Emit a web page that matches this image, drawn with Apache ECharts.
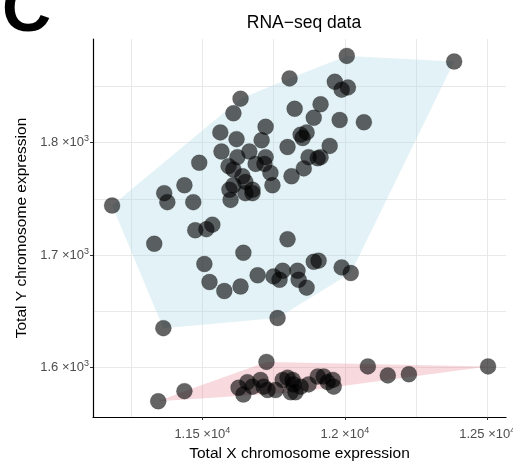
<!DOCTYPE html>
<html><head><meta charset="utf-8">
<script src="https://cdn.jsdelivr.net/npm/echarts@6/dist/echarts.min.js"></script>
<style>html,body{margin:0;padding:0;background:#fff}#c{width:513px;height:461px}</style>
</head><body><div id="c"></div>
<script>
// Group 1 (light blue hull)
const blueX = [11183,11331,11363,11366,11377,11437,11468,11489,11535,11514,11475,11634,11609,11722,11563,11620,11708,11567,11623,11665,11722,11592,11609,11687,11718,11739,11641,11651,11595,11609,11676,11746,11599,11651,11676,11806,12007,12384,11965,11989,12011,11824,11915,11891,11982,12067,11845,11866,11852,11799,11947,11873,11905,11915,11856,11813,11644,11507,11525,11577,11634,11694,11750,11771,11782,11834,11838,11866,11799,11891,11908,11989,12021,11764];
const blueY = [1744,1710,1635,1755,1747,1762,1747,1782,1727,1723,1722,1839,1826,1814,1809,1803,1802,1792,1787,1792,1787,1779,1776,1781,1781,1773,1770,1765,1758,1762,1758,1762,1749,1755,1755,1857,1877,1872,1854,1847,1849,1830,1834,1822,1820,1818,1807,1809,1804,1796,1797,1787,1786,1787,1777,1770,1702,1692,1676,1668,1672,1682,1681,1678,1686,1686,1678,1671,1714,1694,1695,1689,1684,1644];
// Group 2 (pink hull)
const pinkX = [11345,11437,11725,11627,11658,11644,11676,11704,11715,11729,11757,11782,11799,11817,11820,11810,11827,11845,11873,11905,11926,11940,11958,11961,12081,12151,12225,12503];
const pinkY = [1570,1579,1605,1582,1587,1576,1583,1589,1583,1580,1580,1589,1591,1589,1585,1578,1578,1583,1585,1592,1592,1587,1589,1583,1601,1593,1594,1601];

const xMajor = [11500, 12000, 12500];
const xMajorLabels = ['1.15', '1.2', '1.25'];
const xExponent = '4';
const yMajor = [1600, 1700, 1800];
const yMajorLabels = ['1.6', '1.7', '1.8'];
const yExponent = '3';
const xGridValues = [11250, 11500, 11750, 12000, 12250, 12500];
const yGridValues = [1600, 1650, 1700, 1750, 1800, 1850];
const xRange = [11116, 12566];
const yRange = [1556, 1892];

function zip(xs, ys) { return xs.map((x, i) => [x, ys[i]]); }
function hull(pts) {
  const p = pts.slice().sort((a, b) => a[0] - b[0] || a[1] - b[1]);
  const cross = (o, a, b) => (a[0]-o[0])*(b[1]-o[1]) - (a[1]-o[1])*(b[0]-o[0]);
  const lo = [], up = [];
  for (const q of p) { while (lo.length >= 2 && cross(lo[lo.length-2], lo[lo.length-1], q) <= 0) lo.pop(); lo.push(q); }
  for (let i = p.length - 1; i >= 0; i--) { const q = p[i]; while (up.length >= 2 && cross(up[up.length-2], up[up.length-1], q) <= 0) up.pop(); up.push(q); }
  up.pop(); lo.pop();
  return lo.concat(up);
}
const bluePts = zip(blueX, blueY), pinkPts = zip(pinkX, pinkY);
const blueHull = hull(bluePts), pinkHull = hull(pinkPts);

function hullSeries(h, fill) {
  return {
    type: 'custom', xAxisIndex: 0, yAxisIndex: 0, silent: true, z: 1,
    data: [h[0]],
    renderItem: (params, api) => ({
      type: 'polygon',
      shape: { points: h.map(p => api.coord(p)) },
      style: { fill: fill, stroke: null }
    })
  };
}
function labelFmt(values, labels, exp) {
  return v => {
    const i = values.indexOf(v);
    if (i < 0) return '';
    return '{m|' + labels[i] + ' \u00d710}{s|' + exp + '}';
  };
}
const rich = {
  m: { fontSize: 13, color: '#4d4d4d', fontFamily: 'Liberation Sans', lineHeight: 16 },
  s: { fontSize: 9, color: '#4d4d4d', fontFamily: 'Liberation Sans', verticalAlign: 'top', lineHeight: 10 }
};
const pointStyle = { color: 'rgba(0,0,0,0.76)', borderColor: 'rgba(0,0,0,0.35)', borderWidth: 0.6 };

const chart = echarts.init(document.getElementById('c'), null, { renderer: 'canvas' });
chart.setOption({
  animation: false,
  backgroundColor: '#fff',
  grid: { left: 93, right: 7, top: 39, bottom: 44, containLabel: false, outerBoundsMode: 'none' },
  title: {
    text: 'RNA\u2212seq data', left: 299, top: 9, textAlign: 'center',
    textStyle: { fontFamily: 'Liberation Sans', fontSize: 17.5, fontWeight: 'normal', color: '#000' }
  },
  graphic: [{
    type: 'text', left: 2, top: -22,
    style: { text: 'C', font: 'bold 68px "Liberation Sans"', fill: '#000' }
  }],
  xAxis: [{
    type: 'value', min: xRange[0], max: xRange[1], position: 'bottom',
    axisLine: { show: true, onZero: false, lineStyle: { color: '#000', width: 1.2 } },
    axisTick: { show: true, length: 3, customValues: xMajor, lineStyle: { color: '#333' } },
    axisLabel: { show: true, customValues: xMajor, margin: 9, formatter: labelFmt(xMajor, xMajorLabels, xExponent), rich: rich },
    splitLine: { show: false },
    name: 'Total X chromosome expression', nameLocation: 'middle', nameGap: 27,
    nameTextStyle: { fontFamily: 'Liberation Sans', fontSize: 15.5, color: '#000' }
  }, {
    type: 'value', min: xRange[0], max: xRange[1], position: 'bottom',
    axisLine: { show: false }, axisLabel: { show: false },
    axisTick: { show: false, customValues: xGridValues },
    splitLine: { show: true, lineStyle: { color: '#e8e8e8', width: 1 } }
  }],
  yAxis: [{
    type: 'value', min: yRange[0], max: yRange[1], position: 'left',
    axisLine: { show: true, onZero: false, lineStyle: { color: '#000', width: 1.2 } },
    axisTick: { show: true, length: 3, customValues: yMajor, lineStyle: { color: '#333' } },
    axisLabel: { show: true, customValues: yMajor, margin: 4, formatter: labelFmt(yMajor, yMajorLabels, yExponent), rich: rich },
    splitLine: { show: false },
    name: 'Total Y chromosome expression', nameLocation: 'middle', nameGap: 60, nameRotate: 90,
    nameTextStyle: { fontFamily: 'Liberation Sans', fontSize: 15.5, color: '#000' }
  }, {
    type: 'value', min: yRange[0], max: yRange[1], position: 'left',
    axisLine: { show: false }, axisLabel: { show: false },
    axisTick: { show: false, customValues: yGridValues },
    splitLine: { show: true, lineStyle: { color: '#e8e8e8', width: 1 } }
  }],
  series: [
    hullSeries(blueHull, 'rgba(173,216,230,0.34)'),
    hullSeries(pinkHull, 'rgba(230,140,155,0.33)'),
    { type: 'scatter', xAxisIndex: 0, yAxisIndex: 0, data: bluePts, symbolSize: 16, itemStyle: pointStyle, z: 3, silent: true },
    { type: 'scatter', xAxisIndex: 0, yAxisIndex: 0, data: pinkPts, symbolSize: 16, itemStyle: pointStyle, z: 3, silent: true }
  ]
});
</script></body></html>
